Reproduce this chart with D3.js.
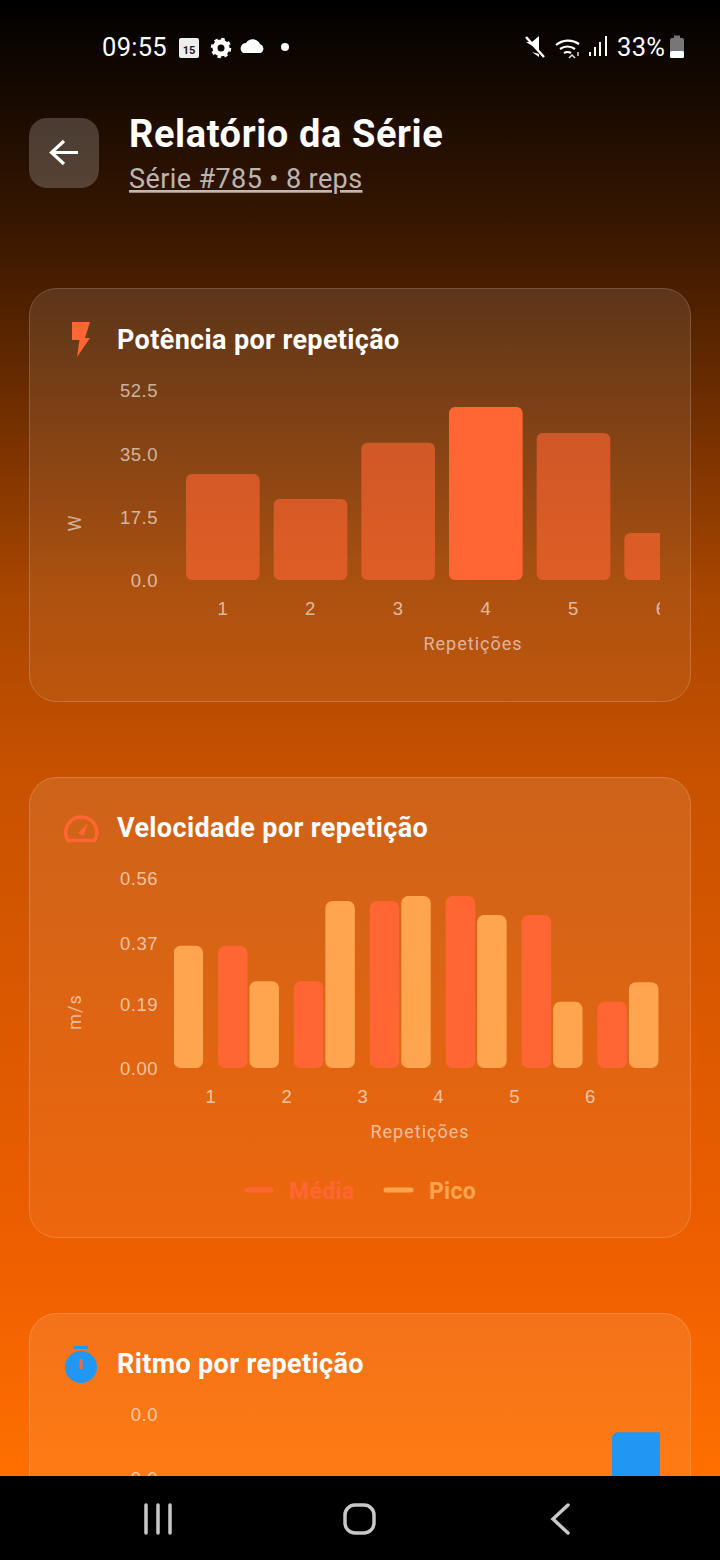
<!DOCTYPE html>
<html>
<head>
<meta charset="utf-8">
<title>Relatório da Série</title>
<script src="https://d3js.org/d3.v7.min.js"></script>
<style>
	html, body { margin: 0; padding: 0; background: #000; }
	svg { display: block; font-family: Roboto, sans-serif; }
	.tick text { fill: #fff; fill-opacity: 0.62; font-size: 18.5px; letter-spacing: 0.5px; }
	.axis-title { fill: #fff; fill-opacity: 0.58; font-size: 18px; letter-spacing: 1px; text-anchor: middle; }
	.card-title { fill: #fff; font-size: 27px; font-weight: 700; letter-spacing: 0.36px; }
</style>
</head>
<body>
<svg id="screen" width="720" height="1560"></svg>
<script>
	// values
	var powerReps = ["1", "2", "3", "4", "5", "6"];
	var powerValues = [29.3, 22.4, 37.9, 47.8, 40.6, 13.0];
	var powerTicks = [0, 17.5, 35, 52.5];

	var speedGroups = [0.5, 1.5, 2.5, 3.5, 4.5, 5.5, 6.5];
	var speedAvg = [null, 0.36, 0.256, 0.492, 0.507, 0.451, 0.195];
	var speedPeak = [0.36, 0.256, 0.492, 0.507, 0.451, 0.195, 0.253];
	var speedReps = [1, 2, 3, 4, 5, 6];
	var speedTicks = [0, 0.19, 0.37, 0.56];

	var paceReps = ["6"];
	var paceValues = [0.0407];
	var paceTicks = [0.03, 0.045];

	var orange = "#FF6633", amber = "#FFA54F", blue = "#2196F3";

	var svg = d3.select("#screen");
	var defs = svg.append("defs");

	var bg = defs.append("linearGradient").attr("id", "bg").attr("x1", 0).attr("y1", 0).attr("x2", 0).attr("y2", 1);
	[[0, "#000000"], [0.14, "#351600"], [0.38, "#A84600"], [0.5, "#C85200"], [0.82, "#F06000"], [0.95, "#FF7000"]].forEach(function(s) {
		bg.append("stop").attr("offset", s[0]).attr("stop-color", s[1]);
	});
	var cardFill = defs.append("linearGradient").attr("id", "cardFill").attr("x1", 0).attr("y1", 0).attr("x2", 0).attr("y2", 1);
	cardFill.append("stop").attr("offset", 0).attr("stop-color", "#fff").attr("stop-opacity", 0.1);
	cardFill.append("stop").attr("offset", 1).attr("stop-color", "#fff").attr("stop-opacity", 0.05);

	svg.append("rect").attr("width", 720).attr("height", 1560).attr("fill", "url(#bg)");

	// header
	svg.append("rect").attr("x", 29).attr("y", 118).attr("width", 70).attr("height", 70).attr("rx", 18)
		.attr("fill", "#fff").attr("fill-opacity", 0.2);
	svg.append("path").attr("d", "M78 152.500H52M64 141L51.500 152.500L64 164")
		.attr("fill", "none").attr("stroke", "#fff").attr("stroke-width", 3.2);
	svg.append("text").attr("x", 129).attr("y", 147).attr("fill", "#fff")
		.attr("font-size", 38).attr("letter-spacing", 0.6).attr("font-weight", 700).text("Relatório da Série");
	svg.append("text").attr("x", 129).attr("y", 188).attr("fill", "#fff").attr("fill-opacity", 0.7)
		.attr("font-size", 27).attr("letter-spacing", 0.4).attr("text-decoration", "underline").text("Série #785 • 8 reps");

	function card(top, height, title, titleY) {
		var g = svg.append("g");
		g.append("rect").attr("x", 29.5).attr("y", top + 0.5).attr("width", 661).attr("height", height)
			.attr("rx", 27).attr("fill", "url(#cardFill)").attr("stroke", "#fff").attr("stroke-opacity", 0.2);
		g.append("text").attr("class", "card-title").attr("x", 117).attr("y", titleY).text(title);
		return g;
	}

	function clip(id, x, y, w, h) {
		defs.append("clipPath").attr("id", id).append("rect").attr("x", x).attr("y", y).attr("width", w).attr("height", h);
	}

	function yAxis(g, scale, ticks, digits) {
		g.append("g").attr("transform", "translate(162,1)")
			.call(d3.axisLeft(scale).tickValues(ticks).tickSize(0).tickPadding(4).tickFormat(d3.format("." + digits + "f")))
			.call(function(a) { a.select(".domain").remove(); });
	}

	function axisTitles(g, xx, xy, xText, yx, yy, yText) {
		g.append("text").attr("class", "axis-title").attr("x", xx).attr("y", xy).text(xText);
		g.append("text").attr("class", "axis-title").attr("transform", "translate(" + yx + "," + yy + ") rotate(-90)").text(yText);
	}

	// potencia
	var powerCard = card(288, 413, "Potência por repetição", 349);
	clip("powerClip", 160, 380, 500, 240);
	var powerX = d3.scaleBand().domain(powerReps).range([179, 705]).paddingInner(0.16).paddingOuter(0.08);
	var powerY = d3.scaleLinear().domain([0, 52.5]).range([580, 390]);
	yAxis(powerCard, powerY, powerTicks, 1);
	var powerPlot = powerCard.append("g").attr("clip-path", "url(#powerClip)");
	var powerMax = d3.max(powerValues);
	powerPlot.selectAll("rect").data(powerValues).enter().append("rect")
		.attr("x", function(d, i) { return powerX(powerReps[i]); })
		.attr("y", function(d) { return powerY(d); })
		.attr("width", powerX.bandwidth())
		.attr("height", function(d) { return powerY(0) - powerY(d); })
		.attr("rx", 6).attr("fill", orange)
		.attr("fill-opacity", function(d) { return d === powerMax ? 1 : 0.62; });
	powerPlot.append("g").attr("transform", "translate(0,598)")
		.call(d3.axisBottom(powerX).tickSize(0).tickPadding(4))
		.call(function(a) { a.select(".domain").remove(); });
	axisTitles(powerCard, 473, 650, "Repetições", 81, 523, "W");
	powerCard.append("path").attr("d", "M72 322H90L85 338H90L77 357L79.500 340H72Z").attr("fill", orange);

	// velocidade
	var speedCard = card(777, 460, "Velocidade por repetição", 837);
	clip("speedClip", 174, 868, 486, 240);
	var speedX = d3.scaleLinear().domain([1, 6]).range([210.500, 590]);
	var speedY = d3.scaleLinear().domain([0, 0.56]).range([1068, 878]);
	yAxis(speedCard, speedY, speedTicks, 2);
	var speedPlot = speedCard.append("g").attr("clip-path", "url(#speedClip)");
	function speedBars(values, colour, dx) {
		speedPlot.append("g").selectAll("rect").data(values).enter().append("rect")
			.filter(function(d) { return d !== null; })
			.attr("x", function(d) { return speedX(speedGroups[values.indexOf(d)]) + dx; })
			.attr("y", function(d) { return speedY(d); })
			.attr("width", 29.5)
			.attr("height", function(d) { return speedY(0) - speedY(d); })
			.attr("rx", 7).attr("fill", colour);
	}
	speedBars(speedAvg, orange, -30.500);
	speedBars(speedPeak, amber, 1);
	speedPlot.append("g").attr("transform", "translate(0,1086)")
		.call(d3.axisBottom(speedX).tickValues(speedReps).tickSize(0).tickPadding(4).tickFormat(d3.format("d")))
		.call(function(a) { a.select(".domain").remove(); });
	axisTitles(speedCard, 420, 1138, "Repetições", 81, 1012, "m/s");

	speedCard.append("path").attr("d", "M68 840.500H94.500A15.500 15.500 0 1 0 68 840.500Z")
		.attr("fill", "none").attr("stroke", orange).attr("stroke-width", 3.5);
	speedCard.append("path").attr("d", "M78 833L88 823L83.500 836Z").attr("fill", orange);

	// legend
	[[247, 271, "Média", 289, orange], [386, 411, "Pico", 429, amber]].forEach(function(l) {
		speedCard.append("line").attr("x1", l[0]).attr("x2", l[1]).attr("y1", 1190).attr("y2", 1190)
			.attr("stroke", l[4]).attr("stroke-width", 5).attr("stroke-linecap", "round");
		speedCard.append("text").attr("x", l[3]).attr("y", 1199).attr("fill", l[4])
			.attr("font-size", 23).attr("letter-spacing", 0.3).attr("font-weight", 700).text(l[2]);
	});

	// ritmo
	var paceCard = card(1313, 400, "Ritmo por repetição", 1373);
	clip("paceClip", 160, 1400, 500, 240);
	var paceX = d3.scaleBand().domain(paceReps).range([612, 685.500]);
	var paceY = d3.scaleLinear().domain([0, 0.045]).range([1604, 1414]);
	yAxis(paceCard, paceY, paceTicks, 1);
	paceCard.append("g").attr("clip-path", "url(#paceClip)").selectAll("rect").data(paceValues).enter().append("rect")
		.attr("x", function(d, i) { return paceX(paceReps[i]); })
		.attr("y", function(d) { return paceY(d); })
		.attr("width", paceX.bandwidth())
		.attr("height", function(d) { return paceY(0) - paceY(d); })
		.attr("rx", 6).attr("fill", blue);
	paceCard.append("circle").attr("cx", 81).attr("cy", 1367).attr("r", 16).attr("fill", blue);
	paceCard.append("rect").attr("x", 74).attr("y", 1346).attr("width", 14).attr("height", 3).attr("fill", blue);
	paceCard.append("rect").attr("x", 79.500).attr("y", 1359).attr("width", 3).attr("height", 10).attr("fill", orange);

	// status bar
	var statusBar = svg.append("g").attr("fill", "#fff");
	statusBar.append("text").attr("x", 102).attr("y", 56).attr("font-size", 25.500).attr("letter-spacing", 0.3).text("09:55");
	statusBar.append("rect").attr("x", 179).attr("y", 38).attr("width", 20).attr("height", 20).attr("rx", 2).attr("fill", "#eee");
	statusBar.append("text").attr("x", 189).attr("y", 54).attr("font-size", 11).attr("font-weight", 700)
		.attr("text-anchor", "middle").attr("fill", "#222").text("15");
	statusBar.append("circle").attr("cx", 221).attr("cy", 48).attr("r", 6).attr("fill", "none").attr("stroke", "#fff").attr("stroke-width", 5);
	statusBar.append("circle").attr("cx", 221).attr("cy", 48).attr("r", 9).attr("fill", "none").attr("stroke", "#fff").attr("stroke-width", 2.500).attr("stroke-dasharray", "3.500 3.570");
	statusBar.append("path").attr("d", "M243 53A5.500 5.500 0 0 1 246 43A8 8 0 0 1 260 44A5 5 0 0 1 261 53Z");
	statusBar.append("circle").attr("cx", 285).attr("cy", 47).attr("r", 4);

	statusBar.append("path").attr("d", "M526 42H532L539 36V50ZM532 52L539 57V54Z");
	statusBar.append("path").attr("d", "M526 37L544 57").attr("stroke", "#fff").attr("stroke-width", 2.500);
	statusBar.append("path").attr("d", "M556 45A19 19 0 0 1 579 44M560 49A13 13 0 0 1 575 49M564 53A7 7 0 0 1 571 53")
		.attr("fill", "none").attr("stroke", "#fff").attr("stroke-width", 2.200);
	statusBar.append("path").attr("d", "M569 58L572 55L575 58M578 56V52").attr("fill", "none").attr("stroke", "#ddd").attr("stroke-width", 1.500);
	statusBar.append("path").attr("d", "M590 56V52M595 56V47M600 56V42M606 56V36").attr("fill", "none").attr("stroke", "#fff").attr("stroke-width", 2);
	statusBar.append("text").attr("x", 617).attr("y", 56).attr("font-size", 25.500).attr("letter-spacing", 0.3).text("33%");
	statusBar.append("rect").attr("x", 670).attr("y", 38).attr("width", 14).attr("height", 20).attr("rx", 2).attr("fill", "#777");
	statusBar.append("rect").attr("x", 674).attr("y", 35.500).attr("width", 6).attr("height", 3).attr("fill", "#777");
	statusBar.append("rect").attr("x", 670).attr("y", 51).attr("width", 14).attr("height", 7).attr("rx", 1.500).attr("fill", "#fff");

	// nav bar
	svg.append("rect").attr("y", 1476).attr("width", 720).attr("height", 84).attr("fill", "#000");
	var nav = svg.append("g").attr("fill", "none").attr("stroke", "#c8c8c8").attr("stroke-width", 3.500);
	nav.append("path").attr("d", "M146 1505V1533M158 1505V1533M170 1505V1533").attr("stroke-linecap", "round");
	nav.append("rect").attr("x", 345).attr("y", 1505).attr("width", 29).attr("height", 28).attr("rx", 10);
	nav.append("path").attr("d", "M568 1505L553 1519L568 1533").attr("stroke-linecap", "round");
</script>
</body>
</html>
